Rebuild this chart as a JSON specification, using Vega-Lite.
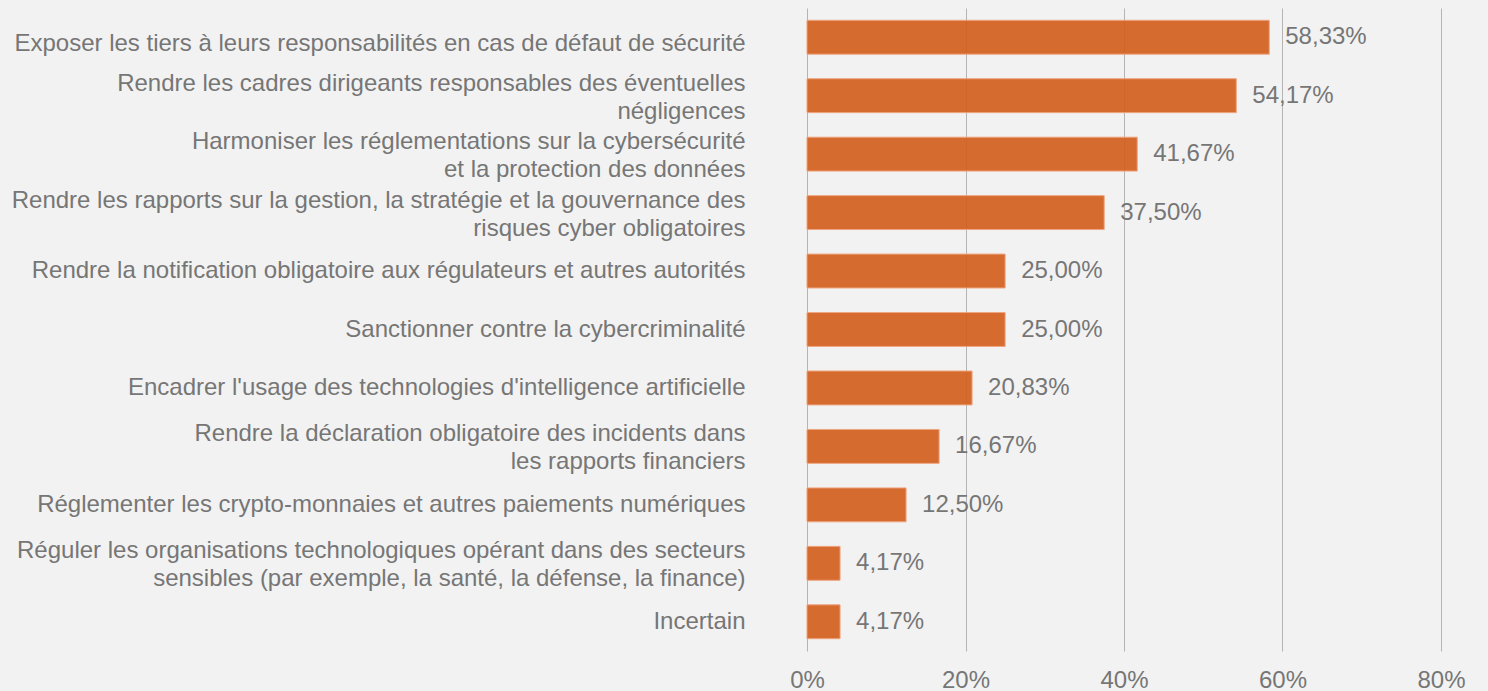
{
  "$schema": "https://vega.github.io/schema/vega-lite/v6.json",
  "width": 634,
  "height": 643,
  "autosize": {"type": "none"},
  "padding": {"left": 807, "top": 8, "right": 47, "bottom": 40},
  "background": "#f2f2f2",
  "config": {
    "view": {"stroke": null},
    "font": "Liberation Sans",
    "locale": {"number": {"decimal": ",", "thousands": " ", "grouping": [3], "currency": ["", " €"]}}
  },
  "data": {
    "values": [
      {"mesure": "Exposer les tiers à leurs responsabilités en cas de défaut de sécurité", "part": 0.5833},
      {"mesure": "Rendre les cadres dirigeants responsables des éventuelles|négligences", "part": 0.5417},
      {"mesure": "Harmoniser les réglementations sur la cybersécurité|et la protection des données", "part": 0.4167},
      {"mesure": "Rendre les rapports sur la gestion, la stratégie et la gouvernance des|risques cyber obligatoires", "part": 0.375},
      {"mesure": "Rendre la notification obligatoire aux régulateurs et autres autorités", "part": 0.25},
      {"mesure": "Sanctionner contre la cybercriminalité", "part": 0.25},
      {"mesure": "Encadrer l'usage des technologies d'intelligence artificielle", "part": 0.2083},
      {"mesure": "Rendre la déclaration obligatoire des incidents dans|les rapports financiers", "part": 0.1667},
      {"mesure": "Réglementer les crypto-monnaies et autres paiements numériques", "part": 0.125},
      {"mesure": "Réguler les organisations technologiques opérant dans des secteurs|sensibles (par exemple, la santé, la défense, la finance)", "part": 0.0417},
      {"mesure": "Incertain", "part": 0.0417}
    ]
  },
  "encoding": {
    "y": {
      "field": "mesure",
      "type": "nominal",
      "sort": null,
      "scale": {"paddingInner": 0.42, "paddingOuter": 0.21},
      "axis": {
        "title": null,
        "ticks": false,
        "domain": false,
        "labelPadding": 62,
        "labelLimit": 900,
        "labelFontSize": 24,
        "labelColor": "#767676",
        "labelLineHeight": 28,
        "labelOffset": {
          "condition": [
            {"test": "indexof(datum.value, '|') >= 0", "value": -12},
            {"test": "indexof(datum.value, 'Exposer') == 0", "value": 7}
          ],
          "value": 0
        },
        "labelExpr": "split(datum.label, '|')"
      }
    },
    "x": {
      "field": "part",
      "type": "quantitative",
      "scale": {"domain": [0, 0.8]},
      "axis": {
        "title": null,
        "format": ".0%",
        "values": [0, 0.2, 0.4, 0.6, 0.8],
        "ticks": false,
        "domain": false,
        "grid": true,
        "gridColor": "#b4b4b4",
        "gridWidth": 1,
        "labelFlush": false,
        "labelFontSize": 24,
        "labelColor": "#767676",
        "labelBaseline": "alphabetic",
        "labelPadding": 36
      }
    }
  },
  "layer": [
    {
      "mark": {"type": "bar", "color": "#d4601f", "fillOpacity": 0.92, "stroke": "#eea57f", "strokeWidth": 1}
    },
    {
      "mark": {"type": "text", "align": "left", "baseline": "middle", "dx": 16, "fontSize": 24, "color": "#767676"},
      "encoding": {"text": {"field": "part", "type": "quantitative", "format": ".2%"}}
    }
  ]
}
